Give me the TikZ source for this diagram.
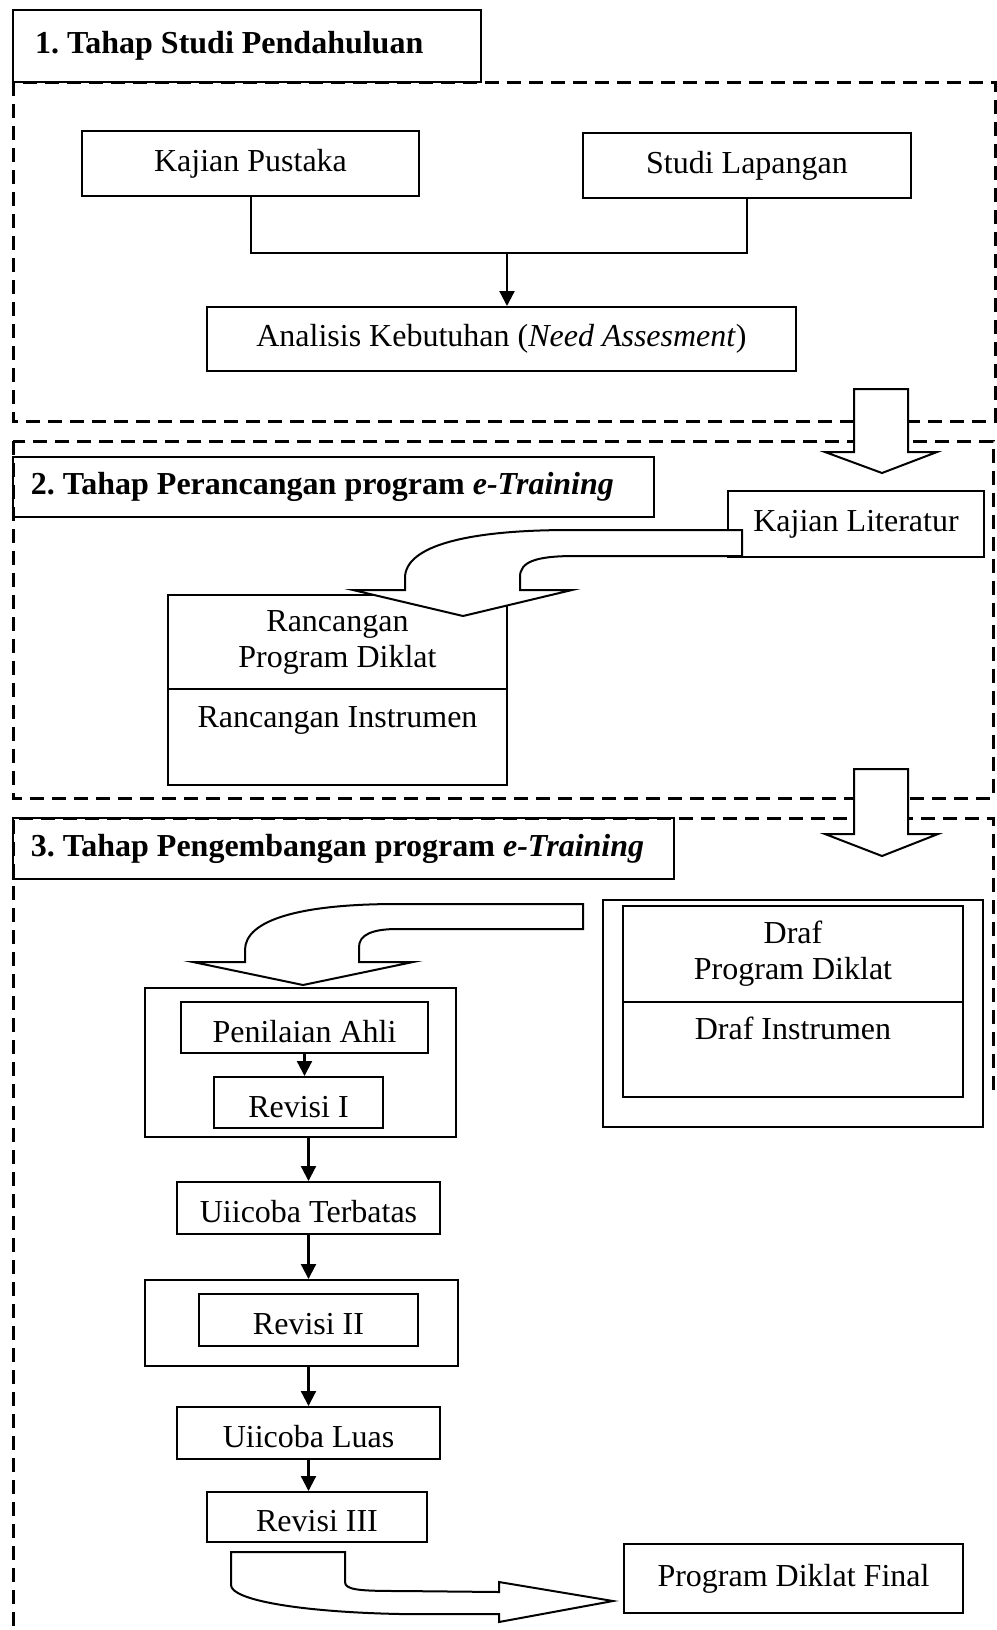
\documentclass[tikz,border=0pt]{standalone}
\usepackage{fontspec}
\setmainfont{Liberation Serif}
\usetikzlibrary{arrows.meta}

\begin{document}
\frenchspacing
\begin{tikzpicture}[x=0.5pt,y=-0.5pt,
        every node/.style={font=\fontsize{16}{18}\selectfont},
        box/.style={draw,line width=1pt,inner sep=0pt,align=center},
        kecil/.style={box,text height=14.5pt,text depth=0pt},
        judul/.style={draw,line width=1pt,inner ysep=0pt,font=\fontsize{16}{18}\selectfont\bfseries},
        tahap/.style={line width=1.5pt,dash pattern=on 7pt off 4pt},
        blok/.style={draw,line width=1pt,fill=white},
        panah/.style={line width=1.1pt,-{Triangle[length=7.5pt,width=7.5pt]}}]
        \useasboundingbox (0,0) rectangle (997,1630);

        \draw[tahap] (13,82) rectangle (995,421);
        \draw[tahap] (13,441) rectangle (993,798);
        \draw[tahap] (993,1090) -- (993,818) -- (13,818) -- (13,1630);

        \node[judul,inner xsep=11pt,minimum height=36pt] (t1) at (247,46) {\makebox[212pt][l]{1. Tahap Studi Pendahuluan}};
        \node[judul,inner xsep=9pt,minimum height=30pt] (t2) at (333.5,487) {\makebox[302.5pt][l]{2. Tahap Perancangan program \textit{e-Training}}};
        \node[judul,inner xsep=9pt,minimum height=30.5pt] (t3) at (343.5,848.5) {\makebox[312.5pt][l]{3. Tahap Pengembangan program \textit{e-Training}}};

        \node[box,minimum width=168.5pt,minimum height=32.5pt] (pustaka) at (250.5,163.5) {Kajian Pustaka};
        \node[box,minimum width=164pt,minimum height=32.5pt] (lapangan) at (747,165.5) {Studi Lapangan};
        \node[box,minimum width=294.5pt,minimum height=32pt] (analisis) at (501.5,339) {Analisis Kebutuhan (\textit{Need Assesment})};
        \coordinate (gabung) at (507,253);
        \draw[line width=1pt] (pustaka.south) |- (gabung) -| (lapangan.south);
        \draw[panah] (gabung) -- (gabung |- analisis.north);

        \draw[blok] (854,389) -- (908,389) -- (908,452) -- (937,452) -- (882,473) -- (825,452) -- (854,452) -- cycle;

        \node[box,minimum width=128pt,minimum height=33pt] (literatur) at (856,524) {Kajian Literatur};
        \node[box,minimum width=169.5pt,minimum height=47pt] (rprog) at (337.5,642) {Rancangan\\Program Diklat};
        \node[box,minimum width=169.5pt,minimum height=48pt,text height=14.5pt,text depth=24.5pt] (rinst) at (337.5,737) {Rancangan Instrumen};
        \draw[blok] (742,530) -- (570,530) .. controls (470,530) and (405,545) .. (405,578) -- (405,590) -- (353,590) -- (463,616) -- (572,590) -- (520,590) -- (520,577) .. controls (520,562) and (535,556) .. (575,556) -- (742,556) -- cycle;

        \draw[blok] (854,769) -- (908,769) -- (908,834) -- (938,834) -- (882,856) -- (825,834) -- (854,834) -- cycle;

        \node[box,line width=1.3pt,minimum width=190pt,minimum height=113.5pt] (draf) at (793,1013.5) {};
        \node[box,minimum width=170pt,minimum height=48pt] (dprog) at (793,954) {Draf\\Program Diklat};
        \node[box,minimum width=170pt,minimum height=47.5pt,text height=14pt,text depth=24.5pt] (dinst) at (793,1049.5) {Draf Instrumen};

        \draw[blok] (583,904) -- (397,904) .. controls (300,904) and (245,920) .. (245,950) -- (245,962) -- (193,962) -- (303,985) -- (413,962) -- (359,962) -- (359,947) .. controls (359,935) and (372,929) .. (397,929) -- (583,929) -- cycle;

        \node[box,minimum width=155.5pt,minimum height=74.5pt] (grupsatu) at (300.5,1062.5) {};
        \node[kecil,minimum width=123.5pt,minimum height=25.5pt] (ahli) at (304.5,1027.5) {Penilaian Ahli};
        \node[kecil,minimum width=84.5pt,minimum height=25.5pt] (revsatu) at (298.5,1102.5) {Revisi I};
        \draw[panah] (ahli.south) -- (ahli.south |- revsatu.north);
        \node[kecil,minimum width=131.5pt,minimum height=26pt] (terbatas) at (308.5,1208) {Uiicoba Terbatas};
        \draw[panah] (grupsatu.south -| terbatas.north) -- (terbatas.north);
        \node[box,minimum width=156.5pt,minimum height=43pt] (grupdua) at (301.5,1323) {};
        \node[kecil,minimum width=109.5pt,minimum height=26pt] (revdua) at (308.5,1320) {Revisi II};
        \draw[panah] (terbatas.south) -- (terbatas.south |- grupdua.north);
        \node[kecil,minimum width=131.5pt,minimum height=26pt] (luas) at (308.5,1433) {Uiicoba Luas};
        \draw[panah] (grupdua.south -| luas.north) -- (luas.north);
        \node[kecil,minimum width=110pt,minimum height=25pt] (revtiga) at (317,1517) {Revisi III};
        \draw[panah] (luas.south) -- (luas.south |- revtiga.north);

        \node[box,minimum width=169.5pt,minimum height=34.5pt] (final) at (793.5,1578.5) {Program Diklat Final};
        \draw[blok] (231,1552) -- (345,1552) -- (345,1582) .. controls (345,1590) and (360,1591) .. (400,1591) -- (499,1592) -- (499,1582) -- (613,1601) -- (499,1622) -- (499,1614) -- (400,1614) .. controls (300,1612) and (231,1600) .. (231,1585) -- cycle;
    \end{tikzpicture}
\end{document}
